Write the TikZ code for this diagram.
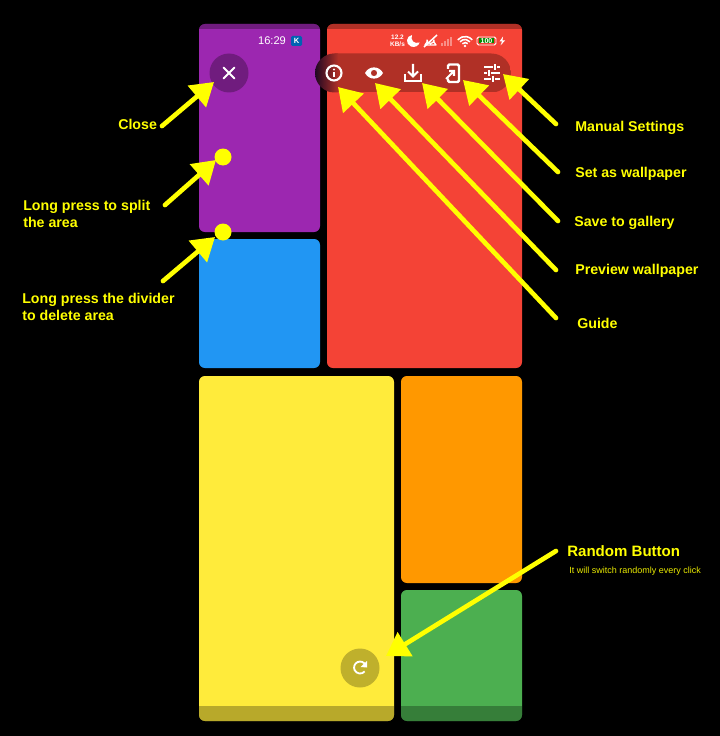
\documentclass[tikz,border=0pt]{standalone}
\usepackage{fontspec}
\setmainfont{Liberation Sans}
\usetikzlibrary{arrows.meta}
\definecolor{mpurple}{HTML}{9C27B0}
\definecolor{mred}{HTML}{F44336}
\definecolor{mblue}{HTML}{2196F3}
\definecolor{myellow}{HTML}{FFEB3B}
\definecolor{morange}{HTML}{FF9800}
\definecolor{mgreen}{HTML}{4CAF50}
\definecolor{barred}{HTML}{B03026}
\definecolor{markyellow}{HTML}{FFFF00}
\tikzset{
  panel/.style={rounded corners=4.2pt},
  strip/.style={black,opacity=.28},
  callout/.style={draw=markyellow,line width=3.3pt,line cap=round,-{Triangle[length=16pt,width=19.5pt]}},
  dotmark/.style={fill=markyellow},
  lbl/.style={inner sep=0pt,anchor=west,align=left,text=markyellow,font=\fontsize{10.1}{12.1}\selectfont\bfseries},
  icon/.style={draw=white,line width=1.5pt},
}
\begin{document}
\begin{tikzpicture}[x=.025cm,y=-.025cm]
    \fill[black](0,0)rectangle(720,736);
    \useasboundingbox(0,0)rectangle(720,736);
    % panels
    \fill[panel,mpurple](199,24)rectangle(320,232);
    \fill[panel,mred](327,24)rectangle(522,368);
    \fill[panel,mblue](199,239)rectangle(320,368);
    \fill[panel,myellow](199,376)rectangle(394,721);
    \fill[panel,morange](401,376)rectangle(522,583);
    \fill[panel,mgreen](401,590)rectangle(522,721);
    % status and navigation strips
    \foreach \xa/\ya/\xb/\yb/\sa/\sb in {199/24/320/232/24/29.5,327/24/522/368/24/29.5,199/376/394/721/706/721,401/590/522/721/706/721}{
      \begin{scope}
        \clip[panel](\xa,\ya)rectangle(\xb,\yb);
        \fill[strip](\xa,\sa)rectangle(\xb,\sb);
      \end{scope}
    }
    % status bar
    \node[inner sep=0pt,text=white,font=\fontsize{7.9}{9}\selectfont](clock)at(272,41){16:29};
    \fill[rounded corners=1pt,fill=blue!45!cyan!70!black](291,36)rectangle(302,46);
    \node[inner sep=0pt,text=white,font=\fontsize{5.4}{6}\selectfont\bfseries](badge)at(296.5,41){K};
    \node[inner sep=0pt,text=white,align=center,font=\fontsize{4.6}{4.9}\selectfont\bfseries](speed)at(397.5,41){12.2\\KB/s};
    \fill[white](412,35)..controls(406,36)and(405,44)..(411,46.5)..controls(415,48)and(419,45.5)..(419.5,42.5)..controls(414,44.5)and(410,40)..(412,35)--cycle;
    \draw[white,line width=.9pt,line join=round](425,45)--(427,42)--(427,40)arc(180:0:3.5)--(434,42)--(436,45)--cycle;
    \draw[white,line width=1.1pt](424,47)--(437,35);
    \foreach \i in {0,...,3}
      \fill[white,opacity=.4](441+\i*3,46)rectangle(443+\i*3,43.5-\i*2);
    \foreach \r in {3.5,6.5,9.5}
      \draw[white,line width=1.1pt](465,46)++(-140:\r)arc(220:320:\r);
    \fill[white](465,46)circle(1.3);
    \draw[white,line width=.7pt,rounded corners=1.2pt](477,37)rectangle(496,45);
    \fill[green!55!black](479,38.5)rectangle(494,43.5);
    \node[inner sep=0pt,text=white,font=\fontsize{5}{5}\selectfont\bfseries](level)at(486.5,41){100};
    \fill[white](503,36.5)--(499.5,41.5)--(502,41.5)--(500.5,45.5)--(505,40.5)--(502.5,40.5)--cycle;
    % close button
    \fill[black,opacity=.28](229,73)circle(19.5);
    \draw[icon,line cap=round](223.5,67.5)--(234.5,78.5)(234.5,67.5)--(223.5,78.5);
    % tool bar
    \begin{scope}
      \clip[rounded corners=13.9pt](315,53.5)rectangle(511,92.5);
      \fill[barred](327,53.5)rectangle(511,92.5);
      \shade[left color=black!80!mpurple,right color=barred](315,53.5)rectangle(338,92.5);
    \end{scope}
    \draw[icon](334,73)circle(7.5);
    \fill[white](334,69.5)circle(1.1);
    \draw[white,line width=1.4pt](334,72)--(334,77.5);
    \fill[white,even odd rule](365,73)..controls(369,65.5)and(379,65.5)..(383,73)..controls(379,80.5)and(369,80.5)..(365,73)(374,73)circle(3.2);
    \draw[icon](405,74)--(405,81)--(421,81)--(421,74);
    \draw[icon](413,64)--(413,76)(408,71.5)--(413,76.5)--(418,71.5);
    \draw[icon,line width=1.7pt,rounded corners=1pt](448,69)--(448,64.5)--(459,64.5)--(459,82)--(448,82)--(448,78.5);
    \draw[icon](446,79)--(454,71)(449,71)--(454,71)--(454,76);
    \foreach \y/\xk in {67/495,73/489,79/493}{
      \draw[icon](484,\y)--(500,\y);
      \draw[barred,line width=2.2pt](\xk-2,\y)--(\xk+2,\y);
      \draw[white,line width=1.3pt](\xk,\y-3)--(\xk,\y+3);
    }
    % random button
    \fill[black,opacity=.25](360,668)circle(19.5);
    \draw[white,line width=1.3pt](365.5,665)arc(-25:-320:6);
    \fill[white](367,661)--(367,667.5)--(360.5,667)--cycle;
    % labels
    \node[lbl](labelClose)at(118,124){Close};
    \node[lbl](labelSplit)at(23,213.5){Long press to split\\the area};
    \node[lbl](labelDelete)at(22,306.5){Long press the divider\\to delete area};
    \node[lbl](labelManual)at(575,128){Manual Settings};
    \node[lbl](labelSet)at(575,174){Set as wallpaper};
    \node[lbl](labelSave)at(574,223){Save to gallery};
    \node[lbl](labelPreview)at(575,271){Preview wallpaper};
    \node[lbl](labelGuide)at(577,323){Guide};
    \node[lbl,font=\fontsize{10.7}{12}\selectfont\bfseries](labelRandom)at(567,551){Random Button};
    \node[lbl,font=\fontsize{6.4}{7}\selectfont,text=markyellow!92!black](labelNote)at(569,571){It will switch randomly every click};
    % arrows
    \coordinate(tailClose)at(162,126);
    \coordinate(tipClose)at(214,82);
    \coordinate(tailSplit)at(165,205);
    \coordinate(tipSplit)at(216,160);
    \coordinate(tailDelete)at(163,281);
    \coordinate(tipDelete)at(215,237);
    \coordinate(tailManual)at(556,124);
    \coordinate(tipManual)at(503,74);
    \coordinate(tailSet)at(558,172);
    \coordinate(tipSet)at(463,80);
    \coordinate(tailSave)at(558,221);
    \coordinate(tipSave)at(422,83);
    \coordinate(tailPreview)at(556,270);
    \coordinate(tipPreview)at(375,83);
    \coordinate(tailGuide)at(556,318);
    \coordinate(tipGuide)at(338,87);
    \coordinate(tailRandom)at(556,551);
    \coordinate(tipRandom)at(386,656);
    \foreach \n in {Close,Split,Delete,Manual,Set,Save,Preview,Guide,Random}
      \draw[callout](tail\n)--(tip\n);
    \fill[dotmark](223,157)circle(8.5);
    \fill[dotmark](223,232)circle(8.5);
\end{tikzpicture}
\end{document}
